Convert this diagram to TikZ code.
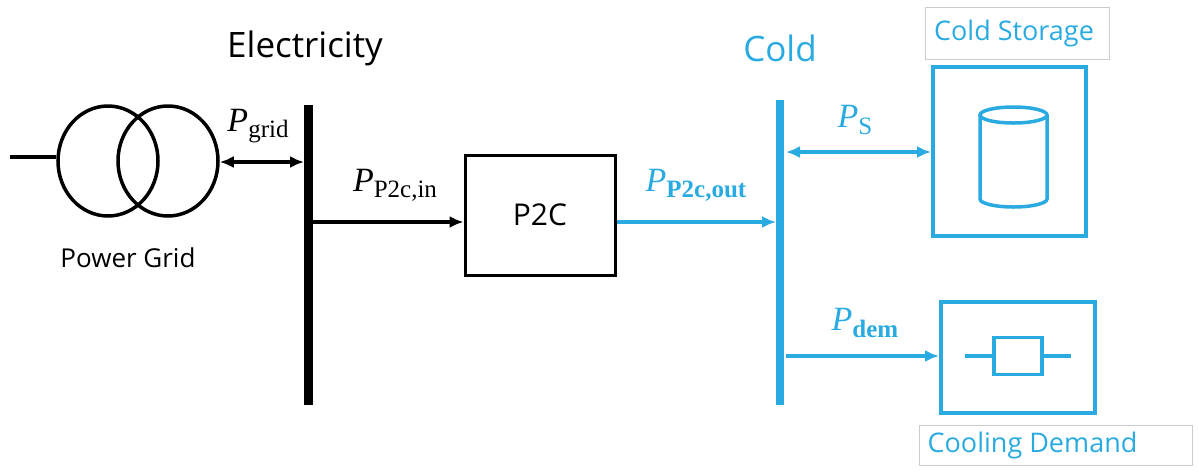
\documentclass[tikz,border=0pt]{standalone}
\usepackage{fontspec}
\setmainfont{Open Sans}
\newfontfamily\mathf{Liberation Serif}
\usetikzlibrary{arrows.meta,shapes.geometric}
\definecolor{cb}{RGB}{41,171,226}
\newcommand{\Pl}[1]{{\mathf\itshape P}\raisebox{-0.35ex}{\mathf\fontsize{25}{25}\selectfont #1}}
\begin{document}
\begin{tikzpicture}[x=1pt,y=-1pt,
 arr/.style={line width=3.5pt,-{Latex[length=14pt,width=12pt]}},
 darr/.style={line width=3.5pt,{Latex[length=14pt,width=12pt]}-{Latex[length=14pt,width=12pt]}},
 lbl/.style={font=\fontsize{34}{34}\selectfont},
 tl/.style={font=\fontsize{26}{26}\selectfont}]
\useasboundingbox (0,0) rectangle (1199,475);
% power grid
\coordinate (l0) at (10,157);
\node[draw,line width=3.5pt,ellipse,minimum width=100pt,minimum height=110pt,inner sep=0] (c1) at (108,161) {};
\node[draw,line width=3.5pt,ellipse,minimum width=100pt,minimum height=110pt,inner sep=0] (c2) at (168,161) {};
\draw[line width=3.5pt] (l0) -- (c1.west |- l0);
\node[tl] (pg) at (128,258) {Power Grid};
% electricity bus
\coordinate (eb1) at (308,105); \coordinate (eb2) at (308,405);
\draw[line width=9pt] (eb1) -- (eb2);
\node[font=\fontsize{35}{35}\selectfont] (el) at (305,48) {Electricity};
\coordinate (eg) at (304,162);
\draw[darr] (c2.east |- eg) -- (eg);
\node[lbl] (pgl) at (258,126) {\Pl{grid}};
% P2C
\node[draw,line width=3pt,minimum width=150pt,minimum height=120pt,font=\fontsize{30}{30}\selectfont] (p2c) at (540,215) {P2C};
\coordinate (ei) at (312,222);
\draw[arr] (ei) -- (p2c.west |- ei);
\node[lbl] (pin) at (395,185) {\Pl{P2c,in}};
% cold bus
\coordinate (cb1) at (780,100); \coordinate (cb2) at (780,405);
\draw[cb,line width=8pt] (cb1) -- (cb2);
\node[cb,font=\fontsize{35}{35}\selectfont] (cl) at (780,48) {Cold};
\coordinate (co) at (776,222);
\draw[cb,arr] (p2c.east |- co) -- (co);
\node[cb,lbl] (pout) at (696,185) {\Pl{\bfseries P2c,out}};
% cold storage
\node[draw=cb,line width=4pt,minimum width=153pt,minimum height=169pt] (cs) at (1009.5,151.5) {};
\coordinate (cy) at (1013.5,115);
\draw[cb,line width=3.5pt] (980,115) -- (980,199) arc[start angle=180,end angle=0,x radius=33.5,y radius=8] -- (1047,115);
\draw[cb,line width=3.5pt] (cy) ellipse[x radius=33.5,y radius=8];
\coordinate (cs0) at (786,152);
\draw[cb,darr] (cs0) -- (cs.west |- cs0);
\node[cb,lbl] (psl) at (855,120) {\Pl{S}};
\node[draw=gray!40,line width=1pt,minimum width=184pt,minimum height=52pt,text=cb,font=\fontsize{27}{27}\selectfont,inner xsep=1pt] (csl) at (1017,33) {Cold Storage\hspace*{6pt}};
% cooling demand
\node[draw=cb,line width=4pt,minimum width=154pt,minimum height=111pt] (cd) at (1018,357.5) {};
\coordinate (r1) at (965,356); \coordinate (r2) at (1071,356);
\node[draw=cb,line width=3.5pt,fill=white,minimum width=48pt,minimum height=37pt] (res) at (1018,356) {};
\draw[cb,line width=3.5pt] (r1) -- (res.west); \draw[cb,line width=3.5pt] (res.east) -- (r2);
\coordinate (cd0) at (786,356);
\draw[cb,arr] (cd0) -- (cd.west |- cd0);
\node[cb,lbl] (pdl) at (865,323) {\Pl{\bfseries dem}};
\node[draw=gray!40,line width=1pt,minimum width=273pt,minimum height=40pt,text=cb,font=\fontsize{27}{27}\selectfont,inner xsep=1pt] (cdl) at (1055.5,445) {Cooling Demand\hspace*{46pt}};
\end{tikzpicture}
\end{document}
